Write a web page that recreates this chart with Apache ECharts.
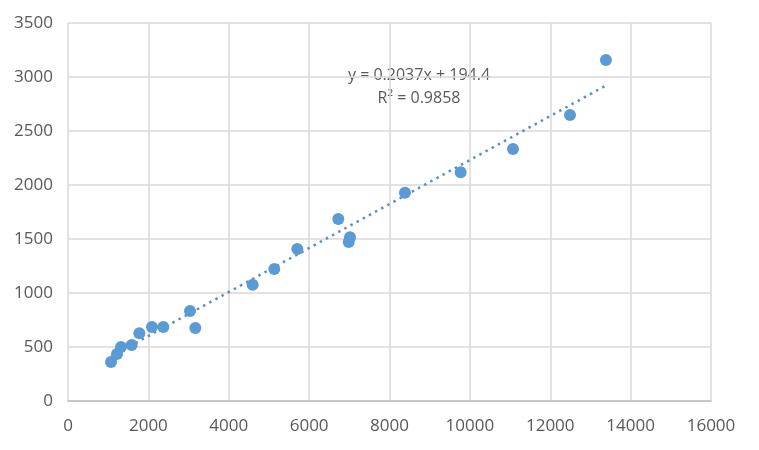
<!DOCTYPE html>
<html>
<head>
<meta charset="utf-8">
<script src="https://cdn.jsdelivr.net/npm/echarts@6/dist/echarts.min.js"></script>
<style>html,body{margin:0;padding:0;background:#fff;}#chart{width:759px;height:450px;}</style>
</head>
<body>
<div id="chart"></div>
<script>
var xValues = [1070, 1219, 1319, 1585, 1775, 2090, 2372, 3036, 3168, 4595, 5133, 5706, 6726, 7017, 6984, 8385, 9771, 11073, 12491, 13386];
var yValues = [361, 435, 500, 518, 627, 685, 685, 833, 676, 1077, 1222, 1407, 1685, 1516, 1472, 1929, 2117, 2333, 2648, 3157];
var trendX = [1070, 13386];
var trendY = [412, 2921];
var equationText = 'y = 0.2037x + 194.4';
var r2Text = 'R² = 0.9858';

var FONT = "'Open Sans', sans-serif";
var chart = echarts.init(document.getElementById('chart'));
function plain(v) { return String(v); }
chart.setOption({
  animation: false,
  grid: { left: 68, right: 48, top: 23, bottom: 49, containLabel: false },
  xAxis: {
    type: 'value', min: 0, max: 16000, interval: 2000,
    axisLine: { show: true, onZero: false, lineStyle: { color: '#bfbfbf', width: 1.5 } },
    axisTick: { show: false },
    axisLabel: { color: '#595959', fontSize: 17, fontFamily: FONT, margin: 17, formatter: plain },
    splitLine: { show: true, lineStyle: { color: '#d9d9d9', width: 1.5 } }
  },
  yAxis: {
    type: 'value', min: 0, max: 3500, interval: 500,
    axisLine: { show: false },
    axisTick: { show: false },
    axisLabel: { color: '#595959', fontSize: 17, fontFamily: FONT, margin: 15, formatter: plain },
    splitLine: { show: true, lineStyle: { color: '#d9d9d9', width: 1.5 } }
  },
  series: [
    {
      type: 'line',
      data: trendX.map(function (x, i) { return [x, trendY[i]]; }),
      symbol: 'none',
      lineStyle: { color: '#5a8fc4', width: 2.5, type: [2.5, 4.5] },
      z: 2,
      silent: true
    },
    {
      type: 'scatter',
      data: xValues.map(function (x, i) { return [x, yValues[i]]; }),
      symbolSize: 12,
      itemStyle: { color: '#5b9bd5', opacity: 1 },
      z: 3
    }
  ],
  graphic: [
    { type: 'text', x: 419, y: 75, style: { text: equationText, fill: '#595959', font: '16px ' + FONT, align: 'center', verticalAlign: 'middle' } },
    { type: 'text', x: 419, y: 98, style: { text: r2Text, fill: '#595959', font: '16px ' + FONT, align: 'center', verticalAlign: 'middle' } }
  ]
});
</script>
</body>
</html>
